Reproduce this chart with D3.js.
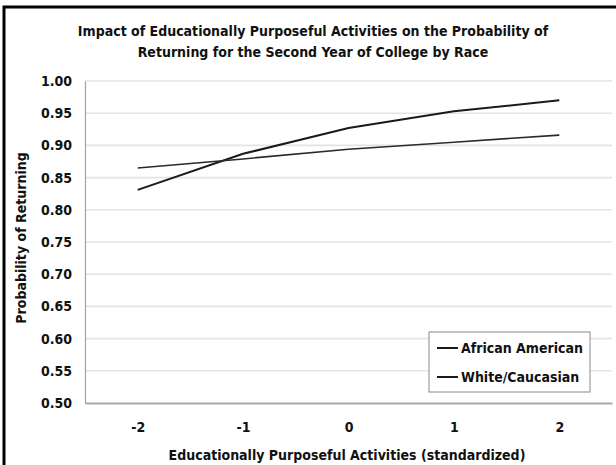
<!DOCTYPE html>
<html>
<head>
<meta charset="utf-8">
<script src="https://cdn.jsdelivr.net/npm/d3@7"></script>
<style>
  html, body { margin: 0; padding: 0; background: #fff; overflow: hidden; }
  svg { display: block; overflow: hidden; }
  text { font-family: "DejaVu Sans Condensed", "DejaVu Sans", sans-serif; font-weight: bold; fill: #111; }
</style>
</head>
<body>
<svg id="chart" width="616" height="465"></svg>
<script>
const categories = ["-2", "-1", "0", "1", "2"];
const africanAmerican = [0.831, 0.887, 0.927, 0.953, 0.970];
const whiteCaucasian = [0.865, 0.879, 0.894, 0.905, 0.916];
const seriesNames = ["African American", "White/Caucasian"];
const yTicks = [0.50, 0.55, 0.60, 0.65, 0.70, 0.75, 0.80, 0.85, 0.90, 0.95, 1.00];
const titleLines = ["Impact of Educationally Purposeful Activities on the Probability of",
                    "Returning for the Second Year of College by Race"];
const xTitle = "Educationally Purposeful Activities (standardized)";
const yTitle = "Probability of Returning";

const svg = d3.select("#chart");
const W = 616, H = 465;
const m = { left: 85, right: 4, top: 81, bottom: 62 };

// outer border (left and top edges; right/bottom are cropped in the reference)
svg.append("path").attr("d", `M4,${H}V7H${W}`)
  .attr("fill", "none").attr("stroke", "#000").attr("stroke-width", 3);

const x = d3.scalePoint().domain(categories).range([m.left, W - m.right]).padding(0.5);
const y = d3.scaleLinear().domain([0.5, 1.0]).range([H - m.bottom, m.top]);

// gridlines
svg.append("g").selectAll("line").data(yTicks.slice(1)).join("line")
  .attr("x1", m.left).attr("x2", W - m.right)
  .attr("y1", d => y(d)).attr("y2", d => y(d))
  .attr("stroke", "#e3e3e3").attr("stroke-width", 1.6);

// y axis
const yAxis = svg.append("g").attr("transform", `translate(${m.left},0)`)
  .call(d3.axisLeft(y).tickValues(yTicks).tickFormat(d3.format(".2f")).tickSizeInner(0).tickSizeOuter(0).tickPadding(13));
yAxis.attr("font-family", null).attr("font-size", null);
yAxis.select(".domain").attr("stroke", "#a0a0a0").attr("stroke-width", 1.2);
yAxis.selectAll("text").style("font-size", "14px").attr("fill", "#111");

// x axis
const xAxis = svg.append("g").attr("transform", `translate(0,${H - m.bottom})`)
  .call(d3.axisBottom(x).tickSizeInner(0).tickSizeOuter(0).tickPadding(19));
xAxis.attr("font-family", null).attr("font-size", null);
xAxis.select(".domain").attr("stroke", "#a8a8a8").attr("stroke-width", 2);
xAxis.selectAll("text").style("font-size", "14px").attr("fill", "#111");

// lines
const line = d3.line().x((d, i) => x(categories[i])).y(d => y(d));
svg.append("path").datum(africanAmerican).attr("d", line)
  .attr("fill", "none").attr("stroke", "#1a1a1a").attr("stroke-width", 2);
svg.append("path").datum(whiteCaucasian).attr("d", line)
  .attr("fill", "none").attr("stroke", "#2a2a2a").attr("stroke-width", 1.6);

// title
svg.append("g").selectAll("text").data(titleLines).join("text")
  .attr("x", 313).attr("y", (d, i) => 36 + i * 20.5)
  .attr("text-anchor", "middle").style("font-size", "14px").text(d => d);

// axis titles
svg.append("text").attr("x", 347).attr("y", 460).attr("text-anchor", "middle")
  .style("font-size", "14px").text(xTitle);
svg.append("text").attr("transform", "translate(26,238) rotate(-90)").attr("text-anchor", "middle")
  .style("font-size", "14px").text(yTitle);

// legend
const lg = svg.append("g");
lg.append("rect").attr("x", 429).attr("y", 332).attr("width", 161).attr("height", 60)
  .attr("fill", "#fff").attr("stroke", "#8a8a8a").attr("stroke-width", 1);
seriesNames.forEach((name, i) => {
  const ly = 348 + i * 29;
  lg.append("line").attr("x1", 437).attr("x2", 458).attr("y1", ly).attr("y2", ly)
    .attr("stroke", "#1a1a1a").attr("stroke-width", 2);
  lg.append("text").attr("x", 461).attr("y", ly + 5).style("font-size", "14px").text(name);
});
</script>
</body>
</html>
